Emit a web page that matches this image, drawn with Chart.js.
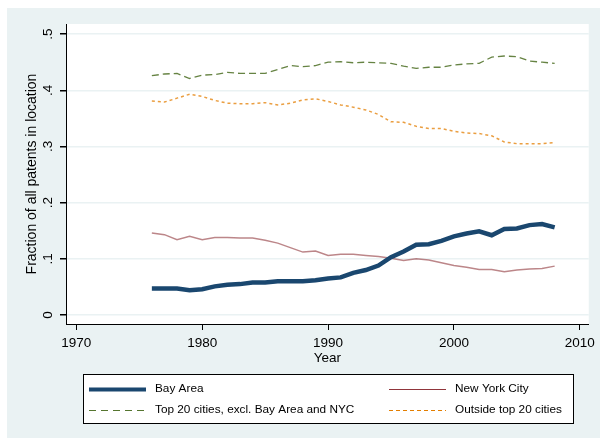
<!DOCTYPE html>
<html>
<head>
<meta charset="utf-8">
<script src="https://cdn.jsdelivr.net/npm/chart.js@4.4.1/dist/chart.umd.min.js"></script>
<style>
  html, body { margin: 0; padding: 0; background: #fff; }
  canvas { display: block; }
</style>
</head>
<body>
<canvas id="patentChart" width="600" height="438"></canvas>
<script>
var years = [1976, 1977, 1978, 1979, 1980, 1981, 1982, 1983, 1984, 1985, 1986,
    1987, 1988, 1989, 1990, 1991, 1992, 1993, 1994, 1995, 1996, 1997,
    1998, 1999, 2000, 2001, 2002, 2003, 2004, 2005, 2006, 2007, 2008];

var bayArea = [0.047, 0.047, 0.047, 0.044, 0.046, 0.051, 0.054, 0.055, 0.058, 0.058, 0.060,
    0.060, 0.060, 0.062, 0.065, 0.067, 0.075, 0.080, 0.088, 0.103, 0.113, 0.125,
    0.126, 0.132, 0.140, 0.145, 0.149, 0.142, 0.153, 0.154, 0.160, 0.162, 0.156];

var newYork = [0.146, 0.143, 0.134, 0.140, 0.134, 0.138, 0.138, 0.137, 0.137, 0.133, 0.128,
    0.120, 0.112, 0.114, 0.106, 0.108, 0.108, 0.106, 0.104, 0.101, 0.097, 0.100,
    0.098, 0.093, 0.088, 0.085, 0.081, 0.081, 0.077, 0.080, 0.082, 0.083, 0.087];

var top20 = [0.426, 0.429, 0.430, 0.421, 0.427, 0.428, 0.432, 0.430, 0.430, 0.430, 0.437,
    0.444, 0.442, 0.444, 0.450, 0.451, 0.449, 0.450, 0.449, 0.448, 0.443, 0.439,
    0.441, 0.441, 0.445, 0.447, 0.448, 0.459, 0.461, 0.460, 0.452, 0.450, 0.448];

var outside20 = [0.381, 0.379, 0.386, 0.393, 0.389, 0.382, 0.377, 0.376, 0.376, 0.378, 0.374,
    0.377, 0.383, 0.385, 0.380, 0.374, 0.370, 0.365, 0.357, 0.344, 0.343, 0.336,
    0.332, 0.332, 0.327, 0.324, 0.323, 0.319, 0.308, 0.305, 0.305, 0.305, 0.307];

var seriesNames = ['Bay Area', 'New York City', 'Top 20 cities, excl. Bay Area and NYC', 'Outside top 20 cities'];
var yTickLabels = ['0', '.1', '.2', '.3', '.4', '.5'];
var xTickLabels = ['1970', '1980', '1990', '2000', '2010'];

var FONT = "'Liberation Sans', Arial, sans-serif";
var BG = '#EAF2F3';

// stata-like background: light outer region, white plot region
var backgroundPlugin = {
    id: 'stataBackground',
    beforeDraw: function(chart) {
        var ctx = chart.ctx;
        var a = chart.chartArea;
        ctx.save();
        ctx.fillStyle = '#fff';
        ctx.fillRect(0, 0, chart.width, chart.height);
        ctx.fillStyle = BG;
        ctx.fillRect(7, 8, chart.width - 7, chart.height - 8);
        ctx.fillStyle = '#fff';
        ctx.fillRect(a.left, a.top, a.right - a.left, a.bottom - a.top);
        ctx.restore();
    }
};

// legend box under the axis, two columns like the original
var legendPlugin = {
    id: 'stataLegend',
    afterDraw: function(chart) {
        var ctx = chart.ctx;
        var styles = [
            { color: '#1A476F', width: 4, dash: [] },
            { color: '#90353B', width: 1, dash: [] },
            { color: '#55752F', width: 1, dash: [7, 5] },
            { color: '#E37E00', width: 1, dash: [4, 3] }
        ];
        var cols = [89, 389];
        var rows = [389, 410];
        ctx.save();
        ctx.fillStyle = '#fff';
        ctx.fillRect(83, 374, 490, 49);
        ctx.strokeStyle = '#000';
        ctx.lineWidth = 1;
        ctx.strokeRect(83.5, 374.5, 490, 49);
        ctx.font = '11.8px ' + FONT;
        ctx.textBaseline = 'middle';
        ctx.textAlign = 'left';
        for (var i = 0; i < seriesNames.length; i++) {
            var x = cols[i % 2];
            var y = rows[Math.floor(i / 2)];
            var s = styles[i];
            ctx.beginPath();
            ctx.setLineDash(s.dash);
            ctx.strokeStyle = s.color;
            ctx.lineWidth = s.width;
            ctx.moveTo(x, y + 0.5);
            ctx.lineTo(x + 57, y + 0.5);
            ctx.stroke();
            ctx.setLineDash([]);
            ctx.fillStyle = '#000';
            ctx.fillText(seriesNames[i], x + 66, y);
        }
        ctx.restore();
    }
};

var ctx = document.getElementById('patentChart').getContext('2d');
var patentChart = new Chart(ctx, {
    type: 'line',
    data: {
        labels: years,
        datasets: [
            {
                label: seriesNames[0],
                data: bayArea,
                borderColor: '#1A476F',
                borderWidth: 4.5,
                pointRadius: 0,
                tension: 0
            },
            {
                label: seriesNames[1],
                data: newYork,
                borderColor: 'rgba(144, 53, 59, 0.6)',
                borderWidth: 1.5,
                pointRadius: 0,
                tension: 0
            },
            {
                label: seriesNames[2],
                data: top20,
                borderColor: 'rgba(85, 117, 47, 0.9)',
                borderWidth: 1.3,
                borderDash: [7, 4],
                pointRadius: 0,
                tension: 0
            },
            {
                label: seriesNames[3],
                data: outside20,
                borderColor: 'rgba(227, 126, 0, 0.75)',
                borderWidth: 1.5,
                borderDash: [3, 3],
                pointRadius: 0,
                tension: 0
            }
        ]
    },
    options: {
        responsive: false,
        animation: false,
        devicePixelRatio: 1,
        layout: {
            padding: { left: 0, top: 24, right: 9, bottom: 72 }
        },
        plugins: {
            legend: { display: false },
            tooltip: { enabled: false }
        },
        scales: {
            x: {
                type: 'linear',
                min: 1969.18,
                max: 2010.71,
                afterFit: function(scale) { scale.height = 42; },
                border: { display: true, color: '#000', width: 1 },
                grid: {
                    drawOnChartArea: false,
                    drawTicks: true,
                    tickLength: 6,
                    tickColor: '#000'
                },
                ticks: {
                    stepSize: 10,
                    includeBounds: false,
                    maxRotation: 0,
                    padding: 5,
                    color: '#000',
                    font: { family: FONT, size: 13.5 },
                    callback: function(value) {
                        return xTickLabels[Math.round((value - 1970) / 10)];
                    }
                },
                title: {
                    display: true,
                    text: 'Year',
                    color: '#000',
                    font: { family: FONT, size: 13.5 },
                    padding: { top: 0, bottom: 0 }
                }
            },
            y: {
                min: -0.016,
                max: 0.518,
                afterFit: function(scale) { scale.width = 66; },
                border: { display: true, color: '#000', width: 1 },
                grid: {
                    color: BG,
                    lineWidth: 1.5,
                    drawTicks: true,
                    tickLength: 6,
                    tickColor: '#000'
                },
                ticks: {
                    stepSize: 0.1,
                    includeBounds: false,
                    minRotation: 90,
                    maxRotation: 90,
                    crossAlign: 'center',
                    padding: 6,
                    color: '#000',
                    font: { family: FONT, size: 13.5 },
                    callback: function(value) {
                        return yTickLabels[Math.round(value * 10)];
                    }
                },
                title: {
                    display: true,
                    text: 'Fraction of all patents in location',
                    color: '#000',
                    font: { family: FONT, size: 14 },
                    padding: { top: 24, bottom: 0 }
                }
            }
        }
    },
    plugins: [backgroundPlugin, legendPlugin]
});
</script>
</body>
</html>
